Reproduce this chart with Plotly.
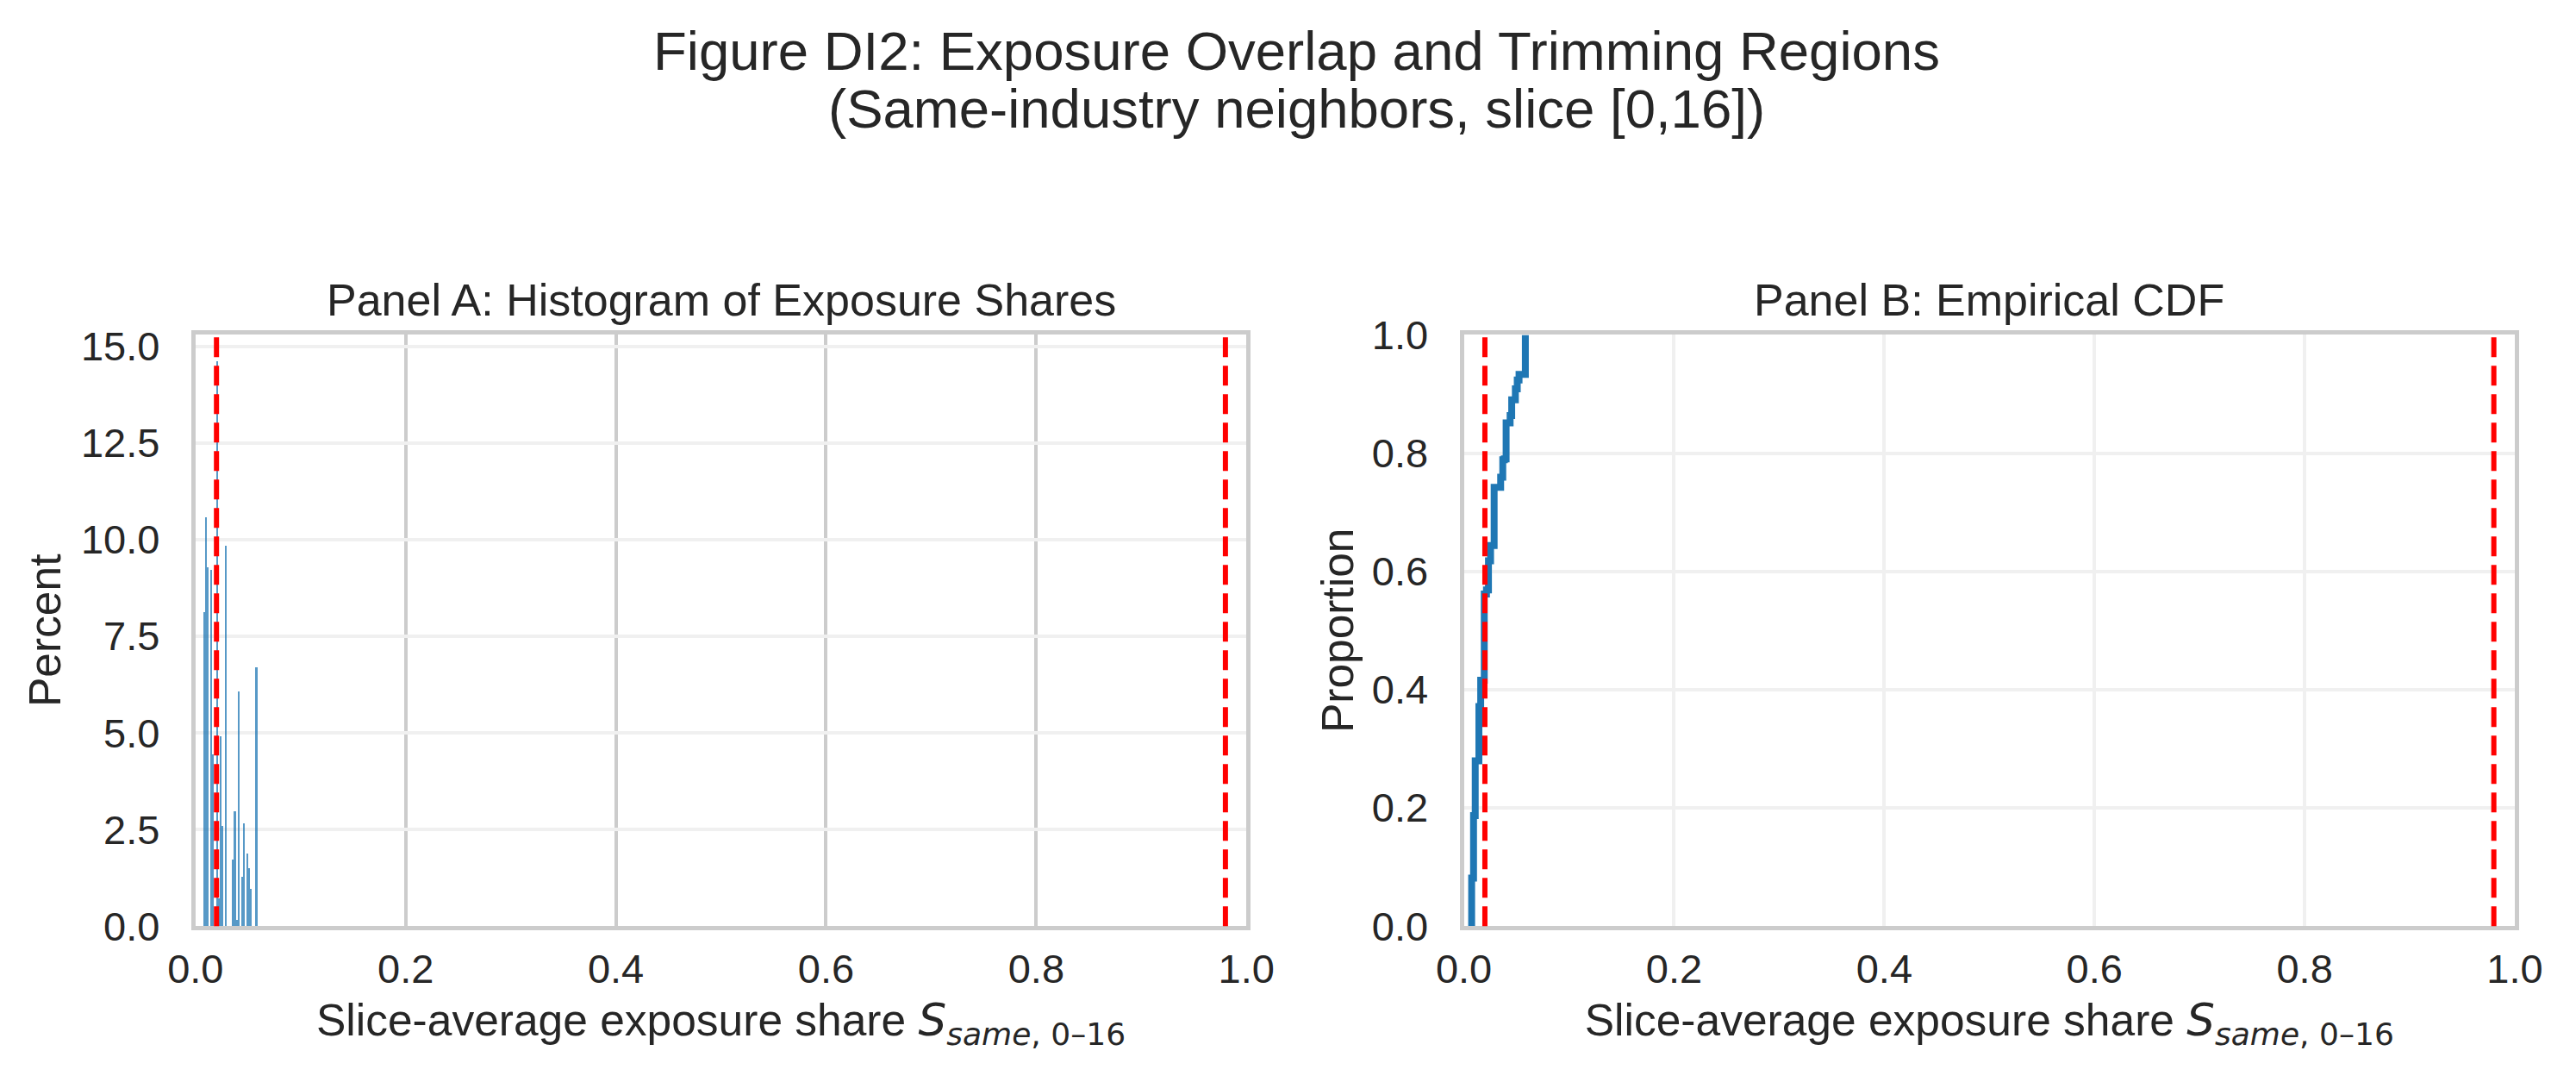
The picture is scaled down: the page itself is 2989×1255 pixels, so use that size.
import plotly.graph_objects as go
import numpy as np

# ---------------- data ----------------
# unique slice-average exposure share values and their percent of observations
share_values = [0.0074, 0.0092, 0.0108, 0.0143, 0.0160, 0.0194, 0.0215, 0.0234,
                0.0254, 0.0288, 0.0350, 0.0370, 0.0385, 0.0402, 0.0440, 0.0455,
                0.0490, 0.0508, 0.0525, 0.0585]
share_percent = [8.12, 10.56, 9.28, 9.20, 4.43, 14.60, 0.70, 4.90,
                 2.59, 9.84, 1.71, 2.96, 0.16, 6.07, 1.26, 2.64,
                 1.86, 1.50, 0.95, 6.69]
hist_bin_start = 0.0073
hist_bin_end = 0.0587
hist_n_bins = 30
trim_bounds = [0.02, 0.98]

x_ticks = [0.0, 0.2, 0.4, 0.6, 0.8, 1.0]
y_ticks_a = [0.0, 2.5, 5.0, 7.5, 10.0, 12.5, 15.0]
y_ticks_b = [0.0, 0.2, 0.4, 0.6, 0.8, 1.0]

title_line1 = "Figure DI2: Exposure Overlap and Trimming Regions"
title_line2 = "(Same-industry neighbors, slice [0,16])"
panel_a_title = "Panel A: Histogram of Exposure Shares"
panel_b_title = "Panel B: Empirical CDF"
x_label = ("Slice-average exposure share "
           "<span style='font-family:DejaVu Sans'><i>S</i><sub><i>same</i>, 0–16</sub></span>")

# ---------------- styling ----------------
W, H = 2989, 1255
FONT = "Liberation Sans"
TXT = "#262626"
SPINE = "#cccccc"
GRID_LIGHT = "#f0f0f0"
BLUE = "#1f77b4"

def px_x(p):
    return p / W

def px_y(p):
    return 1 - p / H

ax_top, ax_bot = 369, 1085
a_l, a_r = 190, 1437
b_l, b_r = 1695, 2942

TICK = 47
LAB = 51.5

fig = go.Figure()

bin_size = (hist_bin_end - hist_bin_start) / hist_n_bins
fig.add_trace(go.Histogram(
    x=share_values, y=share_percent, histfunc="sum",
    xbins=dict(start=hist_bin_start, end=hist_bin_end, size=bin_size),
    marker=dict(color="rgba(31,119,180,0.75)", line=dict(width=0)),
    xaxis="x", yaxis="y", showlegend=False,
))

# ECDF from the same data
cum = np.cumsum(share_percent) / np.sum(share_percent)
ecdf_x = [share_values[0]] + list(share_values)
ecdf_y = [0.0] + list(cum)
fig.add_trace(go.Scatter(
    x=ecdf_x, y=ecdf_y, mode="lines", line=dict(color=BLUE, width=8, shape="hv"),
    xaxis="x2", yaxis="y2", showlegend=False,
))

for xr, yr in (("x", "y domain"), ("x2", "y2 domain")):
    for tb in trim_bounds:
        fig.add_shape(type="line", xref=xr, yref=yr, x0=tb, x1=tb, y0=0, y1=1,
                      line=dict(color="#ff0000", width=6, dash="23px,10px"),
                      layer="above")

axis_common = dict(
    showline=True, linecolor=SPINE, linewidth=5, mirror=True,
    ticks="outside", tickcolor="rgba(0,0,0,0)",
    tickfont=dict(size=TICK, color=TXT, family=FONT),
    zeroline=False, gridwidth=3.5,
)

fig.update_layout(
    width=W, height=H,
    margin=dict(l=0, r=0, t=0, b=0),
    paper_bgcolor="white", plot_bgcolor="white",
    font=dict(family=FONT, color=TXT),
    bargap=0,
    xaxis=dict(domain=[px_x(a_l), px_x(a_r)], range=[0, 1], tickvals=x_ticks,
               tickformat=".1f", gridcolor=SPINE, anchor="y", ticklen=4,
               title=dict(text=x_label, font=dict(size=LAB, color=TXT), standoff=18),
               **axis_common),
    yaxis=dict(domain=[px_y(ax_bot), px_y(ax_top)], range=[0, 15.3], tickvals=y_ticks_a,
               tickformat=".1f", gridcolor=GRID_LIGHT, anchor="x", ticklen=27,
               title=dict(text="Percent", font=dict(size=LAB, color=TXT), standoff=8),
               **axis_common),
    xaxis2=dict(domain=[px_x(b_l), px_x(b_r)], range=[0, 1], tickvals=x_ticks,
                tickformat=".1f", gridcolor=GRID_LIGHT, anchor="y2", ticklen=4,
                title=dict(text=x_label, font=dict(size=LAB, color=TXT), standoff=18),
                **axis_common),
    yaxis2=dict(domain=[px_y(ax_bot), px_y(ax_top)], range=[0, 1], tickvals=y_ticks_b,
                tickformat=".1f", gridcolor=GRID_LIGHT, anchor="x2", ticklen=27,
                title=dict(text="Proportion", font=dict(size=LAB, color=TXT), standoff=6),
                **axis_common),
)

ann = [
    dict(text=title_line1, x=px_x(1497), y=px_y(25), size=63.5),
    dict(text=title_line2, x=px_x(1497), y=px_y(94.5), size=63.5),
    dict(text=panel_a_title, x=px_x((a_l + a_r) / 2), y=px_y(326.5), size=52),
    dict(text=panel_b_title, x=px_x((b_l + b_r) / 2), y=px_y(326.5), size=52),
]
for a in ann:
    fig.add_annotation(text=a["text"], x=a["x"], y=a["y"], xref="paper", yref="paper",
                       xanchor="center", yanchor="middle", showarrow=False,
                       font=dict(size=a["size"], color=TXT, family=FONT))

fig.write_html("out.html")
